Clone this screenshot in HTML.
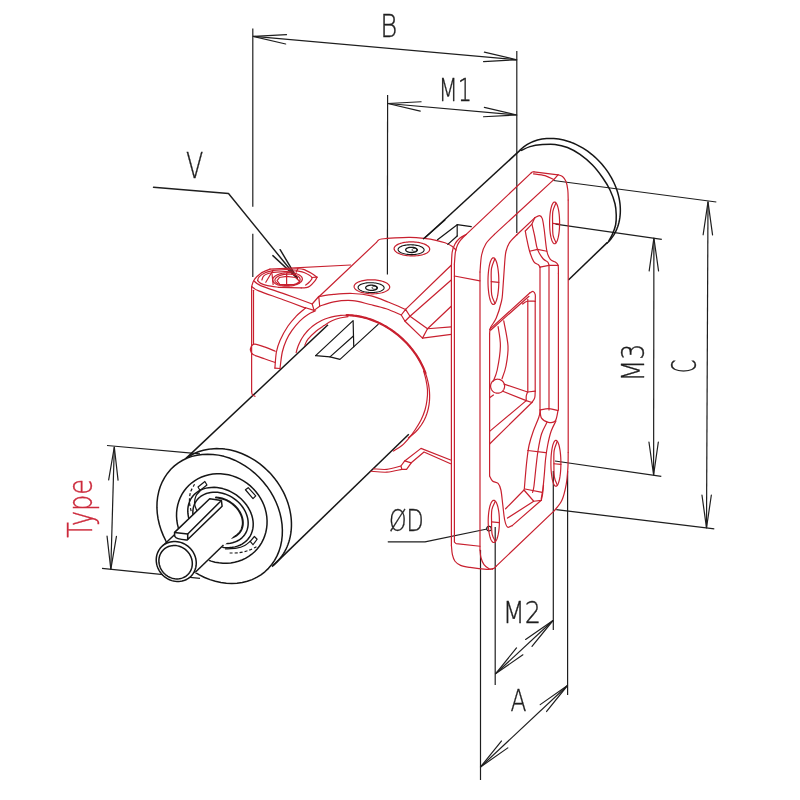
<!DOCTYPE html>
<html lang="en"><head><meta charset="utf-8"><title>Bracket dimension drawing</title>
<style>
html,body{margin:0;padding:0;background:#fff;}
body{width:800px;height:800px;overflow:hidden;}
svg{display:block;}
svg text{font-family:"DejaVu Sans","Liberation Sans",sans-serif;font-weight:200;}
#stage{width:800px;height:800px;will-change:transform;background:#fff;}
</style></head><body>
<div id="stage">
<svg width="800" height="800" viewBox="0 0 800 800">
<rect width="800" height="800" fill="#ffffff"/>
<path d="M252.80 28.50 L252.80 206.75" stroke="#1e1e1e" stroke-width="1.2" fill="none"/>
<path d="M252.80 233.75 L252.80 277.00" stroke="#1e1e1e" stroke-width="1.2" fill="none"/>
<path d="M516.80 51.00 L516.80 233.00" stroke="#1e1e1e" stroke-width="1.2" fill="none"/>
<path d="M253.20 36.40 L516.80 59.80" stroke="#1e1e1e" stroke-width="1.2" fill="none"/>
<path d="M286.49 34.64 L253.20 36.40 L285.66 44.00" stroke="#1e1e1e" stroke-width="1.2" fill="none" stroke-linejoin="round" stroke-linecap="round"/>
<path d="M483.51 61.56 L516.80 59.80 L484.34 52.20" stroke="#1e1e1e" stroke-width="1.2" fill="none" stroke-linejoin="round" stroke-linecap="round"/>
<path d="M387.60 95.00 L387.40 274.40" stroke="#1e1e1e" stroke-width="1.2" fill="none"/>
<path d="M387.80 103.50 L516.80 115.00" stroke="#1e1e1e" stroke-width="1.2" fill="none"/>
<path d="M421.09 101.75 L387.80 103.50 L420.25 111.11" stroke="#1e1e1e" stroke-width="1.2" fill="none" stroke-linejoin="round" stroke-linecap="round"/>
<path d="M483.51 116.75 L516.80 115.00 L484.35 107.39" stroke="#1e1e1e" stroke-width="1.2" fill="none" stroke-linejoin="round" stroke-linecap="round"/>
<path d="M153.50 187.25 L228.50 193.55 L297.30 278.30" stroke="#1e1e1e" stroke-width="1.45" fill="none" stroke-linejoin="round" stroke-linecap="round"/>
<path d="M272.85 255.64 L297.30 278.30 L280.15 249.72" stroke="#1e1e1e" stroke-width="1.45" fill="none" stroke-linejoin="round" stroke-linecap="round"/>
<path d="M553.50 180.50 L716.30 202.00" stroke="#1e1e1e" stroke-width="1.2" fill="none"/>
<path d="M556.25 509.70 L714.30 528.80" stroke="#1e1e1e" stroke-width="1.2" fill="none"/>
<path d="M708.00 201.80 L706.50 528.00" stroke="#1e1e1e" stroke-width="1.2" fill="none"/>
<path d="M712.55 234.82 L708.00 201.80 L703.15 234.78" stroke="#1e1e1e" stroke-width="1.2" fill="none" stroke-linejoin="round" stroke-linecap="round"/>
<path d="M701.95 494.98 L706.50 528.00 L711.35 495.02" stroke="#1e1e1e" stroke-width="1.2" fill="none" stroke-linejoin="round" stroke-linecap="round"/>
<path d="M555.50 224.20 L661.80 239.30" stroke="#1e1e1e" stroke-width="1.2" fill="none"/>
<path d="M555.00 461.00 L661.30 476.30" stroke="#1e1e1e" stroke-width="1.2" fill="none"/>
<path d="M653.90 238.00 L653.60 475.00" stroke="#1e1e1e" stroke-width="1.2" fill="none"/>
<path d="M658.56 271.01 L653.90 238.00 L649.16 270.99" stroke="#1e1e1e" stroke-width="1.2" fill="none" stroke-linejoin="round" stroke-linecap="round"/>
<path d="M648.94 441.99 L653.60 475.00 L658.34 442.01" stroke="#1e1e1e" stroke-width="1.2" fill="none" stroke-linejoin="round" stroke-linecap="round"/>
<path d="M495.20 527.00 L495.20 685.00" stroke="#1e1e1e" stroke-width="1.2" fill="none"/>
<path d="M553.30 471.00 L553.30 630.00" stroke="#1e1e1e" stroke-width="1.2" fill="none"/>
<path d="M495.50 673.80 L553.00 620.50" stroke="#1e1e1e" stroke-width="1.2" fill="none"/>
<path d="M516.51 647.92 L495.50 673.80 L522.90 654.81" stroke="#1e1e1e" stroke-width="1.2" fill="none" stroke-linejoin="round" stroke-linecap="round"/>
<path d="M531.99 646.38 L553.00 620.50 L525.60 639.49" stroke="#1e1e1e" stroke-width="1.2" fill="none" stroke-linejoin="round" stroke-linecap="round"/>
<path d="M480.50 550.00 L480.50 780.00" stroke="#1e1e1e" stroke-width="1.2" fill="none"/>
<path d="M567.60 471.00 L567.60 695.00" stroke="#1e1e1e" stroke-width="1.2" fill="none"/>
<path d="M480.50 767.00 L567.50 685.50" stroke="#1e1e1e" stroke-width="1.2" fill="none"/>
<path d="M501.37 741.01 L480.50 767.00 L507.80 747.87" stroke="#1e1e1e" stroke-width="1.2" fill="none" stroke-linejoin="round" stroke-linecap="round"/>
<path d="M546.63 711.49 L567.50 685.50 L540.20 704.63" stroke="#1e1e1e" stroke-width="1.2" fill="none" stroke-linejoin="round" stroke-linecap="round"/>
<path d="M107.00 445.50 L200.00 453.80" stroke="#1e1e1e" stroke-width="1.2" fill="none"/>
<path d="M102.00 568.40 L200.00 578.40" stroke="#1e1e1e" stroke-width="1.2" fill="none"/>
<path d="M114.30 447.00 L110.80 569.30" stroke="#1e1e1e" stroke-width="1.2" fill="none"/>
<path d="M118.05 480.12 L114.30 447.00 L108.66 479.85" stroke="#1e1e1e" stroke-width="1.2" fill="none" stroke-linejoin="round" stroke-linecap="round"/>
<path d="M107.05 536.18 L110.80 569.30 L116.44 536.45" stroke="#1e1e1e" stroke-width="1.2" fill="none" stroke-linejoin="round" stroke-linecap="round"/>
<path d="M388.20 541.80 L425.00 541.80 L487.00 529.00" stroke="#1e1e1e" stroke-width="1.2" fill="none" stroke-linejoin="round" stroke-linecap="round"/>
<path d="M491.30 528.60 L491.29 528.80 L491.27 529.00 L491.22 529.20 L491.16 529.39 L491.08 529.57 L490.99 529.75 L490.88 529.92 L490.76 530.08 L490.63 530.23 L490.48 530.36 L490.32 530.48 L490.15 530.59 L489.97 530.68 L489.79 530.76 L489.60 530.82 L489.40 530.87 L489.20 530.89 L489.00 530.90 L488.80 530.89 L488.60 530.87 L488.40 530.82 L488.21 530.76 L488.03 530.68 L487.85 530.59 L487.68 530.48 L487.52 530.36 L487.37 530.23 L487.24 530.08 L487.12 529.92 L487.01 529.75 L486.92 529.57 L486.84 529.39 L486.78 529.20 L486.73 529.00 L486.71 528.80 L486.70 528.60 L486.71 528.40 L486.73 528.20 L486.78 528.00 L486.84 527.81 L486.92 527.63 L487.01 527.45 L487.12 527.28 L487.24 527.12 L487.37 526.97 L487.52 526.84 L487.68 526.72 L487.85 526.61 L488.03 526.52 L488.21 526.44 L488.40 526.38 L488.60 526.33 L488.80 526.31 L489.00 526.30 L489.20 526.31 L489.40 526.33 L489.60 526.38 L489.79 526.44 L489.97 526.52 L490.15 526.61 L490.32 526.72 L490.48 526.84 L490.63 526.97 L490.76 527.12 L490.88 527.28 L490.99 527.45 L491.08 527.63 L491.16 527.81 L491.22 528.00 L491.27 528.20 L491.29 528.40 L491.30 528.60 Z" stroke="#1e1e1e" stroke-width="1.2" fill="none" stroke-linejoin="round" stroke-linecap="round"/>
<text transform="translate(380.37 37.25) rotate(0) scale(0.7666 0.9468)" font-size="34" fill="#1e1e1e" stroke="#1e1e1e" stroke-width="0.4">B</text>
<text transform="translate(438.43 101.00) rotate(0) scale(0.6569 0.9166)" font-size="34" fill="#1e1e1e" stroke="#1e1e1e" stroke-width="0.4">M1</text>
<text transform="translate(185.99 178.45) rotate(0) scale(0.7448 1.0254)" font-size="34" fill="#1e1e1e" stroke="#1e1e1e" stroke-width="0.4">V</text>
<text transform="translate(502.76 622.75) rotate(0) scale(0.7519 0.8824)" font-size="34" fill="#1e1e1e" stroke="#1e1e1e" stroke-width="0.4">M2</text>
<text transform="translate(510.55 711.25) rotate(0) scale(0.6879 0.9065)" font-size="34" fill="#1e1e1e" stroke="#1e1e1e" stroke-width="0.4">A</text>
<text transform="translate(388.91 530.63) rotate(0) scale(0.6571 0.9050)" font-size="34" fill="#1e1e1e" stroke="#1e1e1e" stroke-width="0.4">ØD</text>
<text transform="translate(644.43 381.53) rotate(-90) scale(0.7413 0.9385)" font-size="34" fill="#1e1e1e" stroke="#1e1e1e" stroke-width="0.4">M3</text>
<text transform="translate(696.17 373.04) rotate(-90) scale(0.5646 0.9675)" font-size="34" fill="#1e1e1e" stroke="#1e1e1e" stroke-width="0.4">C</text>
<text transform="translate(91.62 537.76) rotate(-90) scale(0.7540 1.0120)" font-size="34" fill="#cc2a3c" stroke="#cc2a3c" stroke-width="0.4">Type</text>
<path d="M186.00 458.40 L328.00 324.80" stroke="#161616" stroke-width="1.5" fill="none"/>
<path d="M425.00 237.80 L521.00 149.40" stroke="#161616" stroke-width="1.5" fill="none"/>
<path d="M272.00 566.60 L408.80 434.30" stroke="#161616" stroke-width="1.5" fill="none"/>
<path d="M568.40 280.00 L607.20 242.60" stroke="#161616" stroke-width="1.5" fill="none"/>
<path d="M520.43 149.75 L522.04 148.28 L523.73 146.91 L525.49 145.63 L527.33 144.45 L529.25 143.37 L531.23 142.39 L533.27 141.52 L535.37 140.75 L537.53 140.08 L539.73 139.53 L541.99 139.08 L544.28 138.74 L546.62 138.52 L548.99 138.40 L551.38 138.40 L553.80 138.51 L556.24 138.72 L558.70 139.05 L561.17 139.49 L563.64 140.04 L566.11 140.70 L568.58 141.46 L571.04 142.33 L573.48 143.30 L575.91 144.38 L578.31 145.55 L580.69 146.82 L583.03 148.19 L585.34 149.65 L587.61 151.20 L589.83 152.83 L592.00 154.55 L594.12 156.35 L596.18 158.22 L598.18 160.17 L600.11 162.19 L601.97 164.27 L603.76 166.42 L605.48 168.62 L607.11 170.88 L608.66 173.18 L610.12 175.53 L611.50 177.92 L612.78 180.34 L613.97 182.79 L615.07 185.27 L616.06 187.77 L616.96 190.29 L617.75 192.82 L618.44 195.35 L619.03 197.89 L619.51 200.42 L619.88 202.95 L620.15 205.46 L620.30 207.95 L620.35 210.42 L620.29 212.87 L620.12 215.28 L619.85 217.66 L619.46 219.99 L618.97 222.28 L618.38 224.52 L617.68 226.70 L616.87 228.83 L615.96 230.89 L614.96 232.88 L613.85 234.81 L612.65 236.66 L611.36 238.43 L609.98 240.12 L608.50 241.73 L606.94 243.25" stroke="#161616" stroke-width="1.5" fill="none" stroke-linejoin="round" stroke-linecap="round"/>
<path d="M521.50 150.40 C522.92 149.77 526.50 147.57 530.00 146.60 C533.50 145.63 538.33 144.97 542.50 144.60 C546.67 144.23 550.83 143.92 555.00 144.40 C559.17 144.88 563.33 145.83 567.50 147.50 C571.67 149.17 575.83 151.48 580.00 154.40 C584.17 157.32 588.75 161.15 592.50 165.00 C596.25 168.85 599.58 173.33 602.50 177.50 C605.42 181.67 607.92 185.62 610.00 190.00 C612.08 194.38 613.96 199.58 615.00 203.75 C616.04 207.92 616.15 211.46 616.25 215.00 C616.35 218.54 616.23 221.83 615.60 225.00 C614.98 228.17 613.60 231.42 612.50 234.00 C611.40 236.58 609.58 239.42 609.00 240.50" stroke="#161616" stroke-width="1.5" fill="none" stroke-linejoin="round" stroke-linecap="round"/>
<path d="M270.00 269.12 C268.44 269.84 263.28 271.62 260.62 273.44 C257.97 275.25 255.56 277.81 254.06 280.00 C252.56 282.19 252.03 285.47 251.62 286.56" stroke="#c8202f" stroke-width="1.2" fill="none" stroke-linejoin="round" stroke-linecap="round"/>
<path d="M251.62 286.56 L251.62 391.56" stroke="#c8202f" stroke-width="1.2" fill="none" stroke-linejoin="round" stroke-linecap="round"/>
<path d="M251.62 391.56 C251.75 392.09 251.81 393.97 252.38 394.75 C252.94 395.53 254.56 396.00 255.00 396.25" stroke="#c8202f" stroke-width="1.2" fill="none" stroke-linejoin="round" stroke-linecap="round"/>
<path d="M253.50 290.31 L253.50 343.75" stroke="#c8202f" stroke-width="1.2" fill="none" stroke-linejoin="round" stroke-linecap="round"/>
<path d="M270.00 269.12 L350.62 265.00" stroke="#c8202f" stroke-width="1.2" fill="none" stroke-linejoin="round" stroke-linecap="round"/>
<path d="M254.06 280.94 C255.16 281.72 255.47 283.44 260.62 285.62 C265.78 287.81 276.41 291.00 285.00 294.06 C293.59 297.12 307.66 302.34 312.19 304.00" stroke="#c8202f" stroke-width="1.2" fill="none" stroke-linejoin="round" stroke-linecap="round"/>
<path d="M251.62 286.56 C252.81 287.28 253.50 288.69 258.75 290.88 C264.00 293.06 275.31 296.81 283.12 299.69 C290.94 302.56 301.88 306.72 305.62 308.12" stroke="#c8202f" stroke-width="1.2" fill="none" stroke-linejoin="round" stroke-linecap="round"/>
<path d="M257.60 280.56 C257.84 279.94 257.79 278.16 259.06 276.85 C260.34 275.54 262.91 273.76 265.25 272.69 C267.59 271.62 271.81 270.81 273.12 270.44" stroke="#c8202f" stroke-width="1.2" fill="none" stroke-linejoin="round" stroke-linecap="round"/>
<path d="M273.12 270.44 L297.88 268.75" stroke="#c8202f" stroke-width="1.2" fill="none" stroke-linejoin="round" stroke-linecap="round"/>
<path d="M297.88 268.75 C298.81 268.84 301.25 268.56 303.50 269.31 C305.75 270.06 309.12 271.94 311.38 273.25 C313.62 274.56 316.06 276.53 317.00 277.19" stroke="#c8202f" stroke-width="1.2" fill="none" stroke-linejoin="round" stroke-linecap="round"/>
<path d="M317.00 277.19 C316.62 277.84 315.97 279.62 314.75 281.12 C313.53 282.62 311.19 285.10 309.69 286.19 C308.19 287.27 307.16 287.37 305.75 287.65 C304.34 287.93 302.00 287.84 301.25 287.88" stroke="#c8202f" stroke-width="1.2" fill="none" stroke-linejoin="round" stroke-linecap="round"/>
<path d="M301.25 287.88 L278.75 287.31" stroke="#c8202f" stroke-width="1.2" fill="none" stroke-linejoin="round" stroke-linecap="round"/>
<path d="M278.75 287.31 C276.88 287.03 270.50 286.28 267.50 285.62 C264.50 284.97 262.40 284.22 260.75 283.38 C259.10 282.53 258.12 281.03 257.60 280.56" stroke="#c8202f" stroke-width="1.2" fill="none" stroke-linejoin="round" stroke-linecap="round"/>
<path d="M261.88 280.00 C262.16 279.34 262.62 277.09 263.56 276.06 C264.50 275.03 265.91 274.41 267.50 273.81 C269.09 273.21 272.19 272.69 273.12 272.46" stroke="#c8202f" stroke-width="1.2" fill="none" stroke-linejoin="round" stroke-linecap="round"/>
<path d="M273.12 272.46 L296.75 270.77" stroke="#c8202f" stroke-width="1.2" fill="none" stroke-linejoin="round" stroke-linecap="round"/>
<path d="M296.75 270.77 C298.06 271.09 302.09 271.56 304.62 272.69 C307.16 273.81 311.19 275.93 311.94 277.52 C312.69 279.12 310.16 280.99 309.12 282.25 C308.09 283.51 306.31 284.59 305.75 285.06" stroke="#c8202f" stroke-width="1.2" fill="none" stroke-linejoin="round" stroke-linecap="round"/>
<path d="M273.12 270.44 L270.88 273.81 L265.81 282.25" stroke="#c8202f" stroke-width="1.2" fill="none" stroke-linejoin="round" stroke-linecap="round"/>
<path d="M297.88 268.75 L296.19 272.12" stroke="#c8202f" stroke-width="1.2" fill="none" stroke-linejoin="round" stroke-linecap="round"/>
<path d="M317.00 277.19 L311.94 277.52" stroke="#c8202f" stroke-width="1.2" fill="none" stroke-linejoin="round" stroke-linecap="round"/>
<path d="M302.37 278.92 L302.33 279.51 L302.18 280.10 L301.92 280.68 L301.55 281.26 L301.08 281.82 L300.50 282.36 L299.82 282.88 L299.05 283.38 L298.19 283.84 L297.25 284.27 L296.23 284.67 L295.15 285.02 L294.01 285.33 L292.82 285.60 L291.59 285.82 L290.33 285.99 L289.05 286.11 L287.76 286.18 L286.47 286.20 L285.18 286.17 L283.91 286.09 L282.67 285.95 L281.47 285.77 L280.31 285.54 L279.21 285.26 L278.17 284.94 L277.20 284.57 L276.31 284.17 L275.50 283.73 L274.79 283.26 L274.17 282.76 L273.66 282.23 L273.25 281.68 L272.95 281.12 L272.76 280.54 L272.68 279.96 L272.72 279.37 L272.87 278.78 L273.13 278.19 L273.50 277.62 L273.97 277.06 L274.55 276.51 L275.23 275.99 L276.00 275.50 L276.86 275.03 L277.80 274.60 L278.82 274.21 L279.90 273.85 L281.04 273.54 L282.23 273.28 L283.46 273.06 L284.72 272.88 L286.00 272.76 L287.29 272.69 L288.58 272.67 L289.87 272.70 L291.14 272.79 L292.38 272.92 L293.58 273.10 L294.74 273.34 L295.84 273.61 L296.88 273.94 L297.85 274.30 L298.74 274.70 L299.55 275.14 L300.26 275.62 L300.88 276.12 L301.39 276.64 L301.80 277.19 L302.10 277.76 L302.29 278.33 L302.37 278.92 Z" stroke="#c8202f" stroke-width="1.2" fill="none" stroke-linejoin="round" stroke-linecap="round"/>
<path d="M300.12 279.34 L300.09 279.83 L299.96 280.32 L299.74 280.81 L299.43 281.28 L299.02 281.75 L298.53 282.20 L297.95 282.64 L297.30 283.05 L296.57 283.44 L295.77 283.80 L294.91 284.13 L293.99 284.42 L293.02 284.68 L292.02 284.91 L290.97 285.09 L289.90 285.23 L288.82 285.34 L287.72 285.40 L286.62 285.41 L285.53 285.39 L284.46 285.32 L283.40 285.21 L282.38 285.06 L281.40 284.86 L280.46 284.63 L279.58 284.36 L278.76 284.06 L278.00 283.73 L277.32 283.36 L276.72 282.97 L276.20 282.55 L275.76 282.11 L275.41 281.65 L275.16 281.18 L275.00 280.70 L274.93 280.21 L274.96 279.72 L275.09 279.23 L275.31 278.74 L275.62 278.27 L276.03 277.80 L276.52 277.35 L277.10 276.91 L277.75 276.50 L278.48 276.11 L279.28 275.75 L280.14 275.42 L281.06 275.13 L282.03 274.87 L283.03 274.64 L284.08 274.46 L285.15 274.32 L286.23 274.21 L287.33 274.15 L288.43 274.14 L289.52 274.16 L290.59 274.23 L291.65 274.34 L292.67 274.49 L293.65 274.69 L294.59 274.92 L295.47 275.19 L296.29 275.49 L297.05 275.82 L297.73 276.19 L298.33 276.58 L298.85 277.00 L299.29 277.44 L299.64 277.90 L299.89 278.37 L300.05 278.85 L300.12 279.34 Z" stroke="#c8202f" stroke-width="1.2" fill="none" stroke-linejoin="round" stroke-linecap="round"/>
<path d="M277.06 280.56 L279.31 277.52 L286.62 276.40 L295.62 277.52 L300.12 281.69 L296.19 284.50 L279.88 284.50 Z" stroke="#c8202f" stroke-width="1.2" fill="none" stroke-linejoin="round" stroke-linecap="round"/>
<path d="M286.62 273.25 L286.62 284.50" stroke="#c8202f" stroke-width="1.2" fill="none" stroke-linejoin="round" stroke-linecap="round"/>
<path d="M272.00 273.81 L273.12 284.50" stroke="#c8202f" stroke-width="1.2" fill="none" stroke-linejoin="round" stroke-linecap="round"/>
<path d="M251.62 345.62 C252.19 345.38 252.88 343.91 255.00 344.12 C257.12 344.34 261.00 345.75 264.38 346.94 C267.75 348.12 273.44 350.53 275.25 351.25" stroke="#c8202f" stroke-width="1.2" fill="none" stroke-linejoin="round" stroke-linecap="round"/>
<path d="M251.62 353.12 C252.03 353.44 251.94 354.06 254.06 355.00 C256.19 355.94 260.84 357.50 264.38 358.75 C267.91 360.00 273.44 361.88 275.25 362.50" stroke="#c8202f" stroke-width="1.2" fill="none" stroke-linejoin="round" stroke-linecap="round"/>
<path d="M251.62 345.62 C251.41 346.25 250.31 348.12 250.31 349.38 C250.31 350.62 251.41 352.50 251.62 353.12" stroke="#c8202f" stroke-width="1.2" fill="none" stroke-linejoin="round" stroke-linecap="round"/>
<path d="M305.60 307.75 C305.20 308.12 304.80 308.56 303.20 310.00 C301.60 311.44 298.53 313.73 296.00 316.40 C293.47 319.07 290.67 322.00 288.00 326.00 C285.33 330.00 281.93 336.07 280.00 340.40 C278.07 344.73 277.25 347.38 276.40 352.00 C275.55 356.62 275.15 365.42 274.90 368.10" stroke="#c8202f" stroke-width="1.2" fill="none" stroke-linejoin="round" stroke-linecap="round"/>
<path d="M315.60 310.80 C314.33 311.40 310.60 312.73 308.00 314.40 C305.40 316.07 302.67 318.13 300.00 320.80 C297.33 323.47 294.27 327.20 292.00 330.40 C289.73 333.60 288.02 336.40 286.40 340.00 C284.78 343.60 283.37 347.25 282.30 352.00 C281.23 356.75 280.38 365.75 280.00 368.50" stroke="#c8202f" stroke-width="1.2" fill="none" stroke-linejoin="round" stroke-linecap="round"/>
<path d="M274.90 368.10 L280.00 368.50" stroke="#c8202f" stroke-width="1.2" fill="none" stroke-linejoin="round" stroke-linecap="round"/>
<path d="M312.19 304.00 L318.75 296.50 L319.69 306.25 L314.06 310.38 L312.19 304.00" stroke="#c8202f" stroke-width="1.2" fill="none" stroke-linejoin="round" stroke-linecap="round"/>
<path d="M305.62 307.75 L314.06 310.38" stroke="#c8202f" stroke-width="1.2" fill="none" stroke-linejoin="round" stroke-linecap="round"/>
<path d="M315.62 355.62 L353.12 320.62 L353.75 346.88" stroke="#161616" stroke-width="1.2" fill="none" stroke-linejoin="round" stroke-linecap="round"/>
<path d="M330.00 356.88 L353.12 336.25" stroke="#161616" stroke-width="1.2" fill="none" stroke-linejoin="round" stroke-linecap="round"/>
<path d="M315.62 355.62 L330.00 356.88 L340.00 359.38 L378.12 324.38" stroke="#161616" stroke-width="1.2" fill="none" stroke-linejoin="round" stroke-linecap="round"/>
<path d="M318.40 297.20 L376.50 242.40" stroke="#c8202f" stroke-width="1.2" fill="none" stroke-linejoin="round" stroke-linecap="round"/>
<path d="M376.50 242.40 C376.80 242.05 377.47 240.87 378.30 240.30 C379.13 239.73 378.72 239.42 381.50 239.00 C384.28 238.58 390.25 238.08 395.00 237.80 C399.75 237.52 405.17 237.20 410.00 237.30 C414.83 237.40 419.67 237.90 424.00 238.40 C428.33 238.90 432.50 239.57 436.00 240.30 C439.50 241.03 442.33 241.82 445.00 242.80 C447.67 243.78 450.17 245.00 452.00 246.20 C453.83 247.40 455.33 249.37 456.00 250.00" stroke="#c8202f" stroke-width="1.2" fill="none" stroke-linejoin="round" stroke-linecap="round"/>
<path d="M318.75 296.50 C321.25 296.15 328.12 294.90 333.75 294.40 C339.38 293.90 346.25 293.25 352.50 293.50 C358.75 293.75 365.21 294.43 371.25 295.90 C377.29 297.37 383.02 300.05 388.75 302.30 C394.48 304.55 402.79 308.22 405.60 309.40" stroke="#c8202f" stroke-width="1.2" fill="none" stroke-linejoin="round" stroke-linecap="round"/>
<path d="M319.70 306.25 C322.04 305.51 328.28 302.74 333.75 301.80 C339.22 300.86 346.46 300.15 352.50 300.60 C358.54 301.05 364.38 303.14 370.00 304.50 C375.62 305.86 381.04 307.00 386.25 308.75 C391.46 310.50 398.75 313.96 401.25 315.00" stroke="#c8202f" stroke-width="1.2" fill="none" stroke-linejoin="round" stroke-linecap="round"/>
<path d="M405.60 309.40 L446.25 270.00 L451.25 265.20" stroke="#c8202f" stroke-width="1.2" fill="none" stroke-linejoin="round" stroke-linecap="round"/>
<path d="M410.00 316.25 L451.25 280.00" stroke="#c8202f" stroke-width="1.2" fill="none" stroke-linejoin="round" stroke-linecap="round"/>
<path d="M427.50 328.75 L451.25 306.25" stroke="#c8202f" stroke-width="1.2" fill="none" stroke-linejoin="round" stroke-linecap="round"/>
<path d="M405.60 309.40 L410.00 316.25 L405.00 321.25 L401.25 315.00 L405.60 309.40" stroke="#c8202f" stroke-width="1.2" fill="none" stroke-linejoin="round" stroke-linecap="round"/>
<path d="M410.00 316.25 L427.50 328.75 L422.50 338.10 L405.00 321.25" stroke="#c8202f" stroke-width="1.2" fill="none" stroke-linejoin="round" stroke-linecap="round"/>
<path d="M427.50 328.75 L451.25 326.90" stroke="#c8202f" stroke-width="1.2" fill="none" stroke-linejoin="round" stroke-linecap="round"/>
<path d="M422.50 338.10 L451.25 334.40" stroke="#c8202f" stroke-width="1.2" fill="none" stroke-linejoin="round" stroke-linecap="round"/>
<path d="M296.17 352.54 L296.97 349.49 L297.95 346.54 L299.11 343.67 L300.44 340.91 L301.93 338.25 L303.59 335.71 L305.41 333.29 L307.38 331.00 L309.50 328.84 L311.77 326.83 L314.17 324.96 L316.70 323.24 L319.35 321.68 L322.12 320.28 L325.00 319.04 L327.99 317.97 L331.06 317.08 L334.22 316.35 L337.45 315.80 L340.76 315.42 L344.12 315.23 L347.53 315.21 L350.97 315.36 L354.45 315.70 L357.96 316.21 L361.47 316.90 L364.98 317.76 L368.49 318.79 L371.98 319.99 L375.44 321.35 L378.87 322.88 L382.25 324.56 L385.58 326.39 L388.84 328.38 L392.03 330.50 L395.14 332.76 L398.16 335.15 L401.09 337.67 L403.91 340.30 L406.61 343.04 L409.19 345.88 L411.65 348.82 L413.97 351.84 L416.15 354.95 L418.19 358.12 L420.07 361.35 L421.80 364.64 L423.36 367.97 L424.76 371.34 L425.99 374.73 L427.04 378.13 L427.92 381.55 L428.62 384.96 L429.14 388.36 L429.48 391.74 L429.63 395.08 L429.61 398.39 L429.39 401.66 L429.00 404.86 L428.43 408.00 L427.67 411.06 L426.74 414.05 L425.63 416.94 L424.35 419.73 L422.90 422.42 L421.29 424.99 L419.52 427.45 L417.59 429.78 L415.51 431.97 L413.28 434.02 L410.92 435.93 L408.42 437.69" stroke="#c8202f" stroke-width="1.2" fill="none" stroke-linejoin="round" stroke-linecap="round"/>
<path d="M346.73 315.19 L348.05 315.22 L349.38 315.27 L350.72 315.35 L352.06 315.45 L353.40 315.58 L354.75 315.73 L356.10 315.92 L357.45 316.13 L358.80 316.36 L360.16 316.62 L361.52 316.91 L362.87 317.22 L364.23 317.56 L365.59 317.92 L366.94 318.31 L368.29 318.73 L369.64 319.17 L370.99 319.63 L372.33 320.12 L373.67 320.63 L375.01 321.17 L376.34 321.73 L377.66 322.32 L378.98 322.93 L380.29 323.56 L381.59 324.22 L382.89 324.90 L384.18 325.60 L385.45 326.32 L386.72 327.07 L387.98 327.84 L389.23 328.63 L390.47 329.44 L391.69 330.27 L392.91 331.12 L394.11 331.99 L395.30 332.88 L396.48 333.79 L397.64 334.72 L398.78 335.67 L399.92 336.63 L401.03 337.62 L402.14 338.62 L403.22 339.64 L404.29 340.67 L405.34 341.72 L406.38 342.79 L407.39 343.87 L408.39 344.97 L409.37 346.08 L410.33 347.21 L411.27 348.35 L412.19 349.50 L413.09 350.67 L413.97 351.84 L414.83 353.03 L415.67 354.23 L416.49 355.44 L417.28 356.67 L418.05 357.90 L418.80 359.14 L419.53 360.39 L420.23 361.64 L420.91 362.91 L421.57 364.18 L422.20 365.46 L422.81 366.74 L423.39 368.03 L423.95 369.33 L424.48 370.63 L424.99 371.93 L425.47 373.24" stroke="#c8202f" stroke-width="2.2" fill="none" stroke-linejoin="round" stroke-linecap="round"/>
<path d="M304.80 345.20 C305.33 344.20 306.13 341.53 308.00 339.20 C309.87 336.87 313.33 333.47 316.00 331.20 C318.67 328.93 321.33 327.33 324.00 325.60 C326.67 323.87 329.33 322.07 332.00 320.80 C334.67 319.53 337.33 318.70 340.00 318.00 C342.67 317.30 346.67 316.83 348.00 316.60" stroke="#c8202f" stroke-width="1.2" fill="none" stroke-linejoin="round" stroke-linecap="round"/>
<path d="M423.60 371.00 C424.00 372.50 425.35 376.83 426.00 380.00 C426.65 383.17 427.33 386.67 427.50 390.00 C427.67 393.33 427.42 396.67 427.00 400.00 C426.58 403.33 426.00 406.67 425.00 410.00 C424.00 413.33 422.67 416.67 421.00 420.00 C419.33 423.33 417.00 427.00 415.00 430.00 C413.00 433.00 411.18 435.42 409.00 438.00 C406.82 440.58 404.50 443.33 401.90 445.50 C399.30 447.67 394.82 450.08 393.40 451.00" stroke="#c8202f" stroke-width="1.2" fill="none" stroke-linejoin="round" stroke-linecap="round"/>
<path d="M389.70 287.11 L389.62 287.72 L389.41 288.32 L389.06 288.91 L388.58 289.49 L387.98 290.04 L387.25 290.57 L386.41 291.07 L385.45 291.54 L384.40 291.97 L383.25 292.36 L382.01 292.71 L380.69 293.02 L379.31 293.27 L377.87 293.48 L376.39 293.64 L374.87 293.75 L373.33 293.80 L371.78 293.80 L370.23 293.75 L368.69 293.64 L367.18 293.48 L365.70 293.27 L364.27 293.01 L362.90 292.71 L361.59 292.36 L360.37 291.96 L359.23 291.53 L358.19 291.06 L357.25 290.56 L356.43 290.03 L355.72 289.48 L355.13 288.90 L354.68 288.31 L354.35 287.71 L354.16 287.10 L354.10 286.49 L354.18 285.88 L354.39 285.28 L354.74 284.69 L355.22 284.11 L355.82 283.56 L356.55 283.03 L357.39 282.53 L358.35 282.06 L359.40 281.63 L360.55 281.24 L361.79 280.89 L363.11 280.58 L364.49 280.33 L365.93 280.12 L367.41 279.96 L368.93 279.85 L370.47 279.80 L372.02 279.80 L373.57 279.85 L375.11 279.96 L376.62 280.12 L378.10 280.33 L379.53 280.59 L380.90 280.89 L382.21 281.24 L383.43 281.64 L384.57 282.07 L385.61 282.54 L386.55 283.04 L387.37 283.57 L388.08 284.12 L388.67 284.70 L389.12 285.29 L389.45 285.89 L389.64 286.50 L389.70 287.11 Z" stroke="#c8202f" stroke-width="1.2" fill="none" stroke-linejoin="round" stroke-linecap="round"/>
<path d="M384.10 287.83 L384.04 288.25 L383.89 288.67 L383.63 289.09 L383.28 289.49 L382.84 289.88 L382.31 290.25 L381.70 290.60 L381.00 290.92 L380.23 291.22 L379.39 291.50 L378.49 291.74 L377.52 291.96 L376.52 292.14 L375.47 292.28 L374.38 292.39 L373.27 292.46 L372.15 292.50 L371.01 292.50 L369.88 292.46 L368.76 292.39 L367.65 292.27 L366.57 292.13 L365.53 291.94 L364.53 291.73 L363.57 291.48 L362.68 291.21 L361.85 290.90 L361.09 290.58 L360.40 290.22 L359.80 289.85 L359.28 289.46 L358.86 289.06 L358.52 288.65 L358.28 288.23 L358.14 287.80 L358.10 287.37 L358.16 286.95 L358.31 286.53 L358.57 286.11 L358.92 285.71 L359.36 285.32 L359.89 284.95 L360.50 284.60 L361.20 284.28 L361.97 283.98 L362.81 283.70 L363.71 283.46 L364.68 283.24 L365.68 283.06 L366.73 282.92 L367.82 282.81 L368.93 282.74 L370.05 282.70 L371.19 282.70 L372.32 282.74 L373.44 282.81 L374.55 282.93 L375.63 283.07 L376.67 283.26 L377.67 283.47 L378.63 283.72 L379.52 283.99 L380.35 284.30 L381.11 284.62 L381.80 284.98 L382.40 285.35 L382.92 285.74 L383.34 286.14 L383.68 286.55 L383.92 286.97 L384.06 287.40 L384.10 287.83 Z" stroke="#161616" stroke-width="1.1" fill="none" stroke-linejoin="round" stroke-linecap="round"/>
<path d="M377.30 287.90 L377.27 288.13 L377.20 288.35 L377.09 288.57 L376.93 288.78 L376.74 288.99 L376.50 289.19 L376.22 289.37 L375.91 289.55 L375.57 289.71 L375.19 289.86 L374.79 289.99 L374.36 290.10 L373.91 290.20 L373.44 290.28 L372.96 290.34 L372.46 290.38 L371.96 290.40 L371.45 290.40 L370.95 290.38 L370.45 290.34 L369.96 290.28 L369.47 290.21 L369.01 290.11 L368.56 290.00 L368.14 289.87 L367.74 289.73 L367.37 289.57 L367.03 289.39 L366.72 289.21 L366.46 289.01 L366.23 288.81 L366.04 288.59 L365.89 288.38 L365.78 288.15 L365.72 287.93 L365.70 287.70 L365.73 287.47 L365.80 287.25 L365.91 287.03 L366.07 286.82 L366.26 286.61 L366.50 286.41 L366.78 286.23 L367.09 286.05 L367.43 285.89 L367.81 285.74 L368.21 285.61 L368.64 285.50 L369.09 285.40 L369.56 285.32 L370.04 285.26 L370.54 285.22 L371.04 285.20 L371.55 285.20 L372.05 285.22 L372.55 285.26 L373.04 285.32 L373.53 285.39 L373.99 285.49 L374.44 285.60 L374.86 285.73 L375.26 285.87 L375.63 286.03 L375.97 286.21 L376.28 286.39 L376.54 286.59 L376.77 286.79 L376.96 287.01 L377.11 287.22 L377.22 287.45 L377.28 287.67 L377.30 287.90 Z" stroke="#161616" stroke-width="1.3" fill="none" stroke-linejoin="round" stroke-linecap="round"/>
<path d="M376.90 287.84 L376.89 287.97 L376.86 288.10 L376.81 288.23 L376.75 288.35 L376.66 288.47 L376.57 288.59 L376.45 288.69 L376.32 288.80 L376.18 288.89 L376.02 288.98 L375.85 289.05 L375.68 289.12 L375.49 289.18 L375.30 289.22 L375.10 289.26 L374.89 289.28 L374.68 289.30 L374.47 289.30 L374.26 289.29 L374.06 289.27 L373.85 289.24 L373.65 289.19 L373.46 289.14 L373.28 289.08 L373.10 289.00 L372.94 288.92 L372.78 288.83 L372.64 288.73 L372.52 288.63 L372.41 288.51 L372.31 288.40 L372.24 288.27 L372.18 288.15 L372.13 288.02 L372.11 287.89 L372.10 287.76 L372.11 287.63 L372.14 287.50 L372.19 287.37 L372.25 287.25 L372.34 287.13 L372.43 287.01 L372.55 286.91 L372.68 286.80 L372.82 286.71 L372.98 286.62 L373.15 286.55 L373.32 286.48 L373.51 286.42 L373.70 286.38 L373.90 286.34 L374.11 286.32 L374.32 286.30 L374.53 286.30 L374.74 286.31 L374.94 286.33 L375.15 286.36 L375.35 286.41 L375.54 286.46 L375.72 286.52 L375.90 286.60 L376.06 286.68 L376.22 286.77 L376.36 286.87 L376.48 286.97 L376.59 287.09 L376.69 287.20 L376.76 287.33 L376.82 287.45 L376.87 287.58 L376.89 287.71 L376.90 287.84 Z" stroke="#161616" stroke-width="0.9" fill="none" stroke-linejoin="round" stroke-linecap="round"/>
<path d="M429.70 249.21 L429.62 249.82 L429.41 250.42 L429.06 251.01 L428.58 251.59 L427.98 252.14 L427.25 252.67 L426.41 253.17 L425.45 253.64 L424.40 254.07 L423.25 254.46 L422.01 254.81 L420.69 255.12 L419.31 255.37 L417.87 255.58 L416.39 255.74 L414.87 255.85 L413.33 255.90 L411.78 255.90 L410.23 255.85 L408.69 255.74 L407.18 255.58 L405.70 255.37 L404.27 255.11 L402.90 254.81 L401.59 254.46 L400.37 254.06 L399.23 253.63 L398.19 253.16 L397.25 252.66 L396.43 252.13 L395.72 251.58 L395.13 251.00 L394.68 250.41 L394.35 249.81 L394.16 249.20 L394.10 248.59 L394.18 247.98 L394.39 247.38 L394.74 246.79 L395.22 246.21 L395.82 245.66 L396.55 245.13 L397.39 244.63 L398.35 244.16 L399.40 243.73 L400.55 243.34 L401.79 242.99 L403.11 242.68 L404.49 242.43 L405.93 242.22 L407.41 242.06 L408.93 241.95 L410.47 241.90 L412.02 241.90 L413.57 241.95 L415.11 242.06 L416.62 242.22 L418.10 242.43 L419.53 242.69 L420.90 242.99 L422.21 243.34 L423.43 243.74 L424.57 244.17 L425.61 244.64 L426.55 245.14 L427.37 245.67 L428.08 246.22 L428.67 246.80 L429.12 247.39 L429.45 247.99 L429.64 248.60 L429.70 249.21 Z" stroke="#c8202f" stroke-width="1.2" fill="none" stroke-linejoin="round" stroke-linecap="round"/>
<path d="M424.10 249.93 L424.04 250.35 L423.89 250.77 L423.63 251.19 L423.28 251.59 L422.84 251.98 L422.31 252.35 L421.70 252.70 L421.00 253.02 L420.23 253.32 L419.39 253.60 L418.49 253.84 L417.52 254.06 L416.52 254.24 L415.47 254.38 L414.38 254.49 L413.27 254.56 L412.15 254.60 L411.01 254.60 L409.88 254.56 L408.76 254.49 L407.65 254.37 L406.57 254.23 L405.53 254.04 L404.53 253.83 L403.57 253.58 L402.68 253.31 L401.85 253.00 L401.09 252.68 L400.40 252.32 L399.80 251.95 L399.28 251.56 L398.86 251.16 L398.52 250.75 L398.28 250.33 L398.14 249.90 L398.10 249.47 L398.16 249.05 L398.31 248.63 L398.57 248.21 L398.92 247.81 L399.36 247.42 L399.89 247.05 L400.50 246.70 L401.20 246.38 L401.97 246.08 L402.81 245.80 L403.71 245.56 L404.68 245.34 L405.68 245.16 L406.73 245.02 L407.82 244.91 L408.93 244.84 L410.05 244.80 L411.19 244.80 L412.32 244.84 L413.44 244.91 L414.55 245.03 L415.63 245.17 L416.67 245.36 L417.67 245.57 L418.63 245.82 L419.52 246.09 L420.35 246.40 L421.11 246.72 L421.80 247.08 L422.40 247.45 L422.92 247.84 L423.34 248.24 L423.68 248.65 L423.92 249.07 L424.06 249.50 L424.10 249.93 Z" stroke="#161616" stroke-width="1.1" fill="none" stroke-linejoin="round" stroke-linecap="round"/>
<path d="M417.30 250.00 L417.27 250.23 L417.20 250.45 L417.09 250.67 L416.93 250.88 L416.74 251.09 L416.50 251.29 L416.22 251.47 L415.91 251.65 L415.57 251.81 L415.19 251.96 L414.79 252.09 L414.36 252.20 L413.91 252.30 L413.44 252.38 L412.96 252.44 L412.46 252.48 L411.96 252.50 L411.45 252.50 L410.95 252.48 L410.45 252.44 L409.96 252.38 L409.47 252.31 L409.01 252.21 L408.56 252.10 L408.14 251.97 L407.74 251.83 L407.37 251.67 L407.03 251.49 L406.72 251.31 L406.46 251.11 L406.23 250.91 L406.04 250.69 L405.89 250.48 L405.78 250.25 L405.72 250.03 L405.70 249.80 L405.73 249.57 L405.80 249.35 L405.91 249.13 L406.07 248.92 L406.26 248.71 L406.50 248.51 L406.78 248.33 L407.09 248.15 L407.43 247.99 L407.81 247.84 L408.21 247.71 L408.64 247.60 L409.09 247.50 L409.56 247.42 L410.04 247.36 L410.54 247.32 L411.04 247.30 L411.55 247.30 L412.05 247.32 L412.55 247.36 L413.04 247.42 L413.53 247.49 L413.99 247.59 L414.44 247.70 L414.86 247.83 L415.26 247.97 L415.63 248.13 L415.97 248.31 L416.28 248.49 L416.54 248.69 L416.77 248.89 L416.96 249.11 L417.11 249.32 L417.22 249.55 L417.28 249.77 L417.30 250.00 Z" stroke="#161616" stroke-width="1.3" fill="none" stroke-linejoin="round" stroke-linecap="round"/>
<path d="M416.90 249.94 L416.89 250.07 L416.86 250.20 L416.81 250.33 L416.75 250.45 L416.66 250.57 L416.57 250.69 L416.45 250.79 L416.32 250.90 L416.18 250.99 L416.02 251.08 L415.85 251.15 L415.68 251.22 L415.49 251.28 L415.30 251.32 L415.10 251.36 L414.89 251.38 L414.68 251.40 L414.47 251.40 L414.26 251.39 L414.06 251.37 L413.85 251.34 L413.65 251.29 L413.46 251.24 L413.28 251.18 L413.10 251.10 L412.94 251.02 L412.78 250.93 L412.64 250.83 L412.52 250.73 L412.41 250.61 L412.31 250.50 L412.24 250.37 L412.18 250.25 L412.13 250.12 L412.11 249.99 L412.10 249.86 L412.11 249.73 L412.14 249.60 L412.19 249.47 L412.25 249.35 L412.34 249.23 L412.43 249.11 L412.55 249.01 L412.68 248.90 L412.82 248.81 L412.98 248.72 L413.15 248.65 L413.32 248.58 L413.51 248.52 L413.70 248.48 L413.90 248.44 L414.11 248.42 L414.32 248.40 L414.53 248.40 L414.74 248.41 L414.94 248.43 L415.15 248.46 L415.35 248.51 L415.54 248.56 L415.72 248.62 L415.90 248.70 L416.06 248.78 L416.22 248.87 L416.36 248.97 L416.48 249.07 L416.59 249.19 L416.69 249.30 L416.76 249.43 L416.82 249.55 L416.87 249.68 L416.89 249.81 L416.90 249.94 Z" stroke="#161616" stroke-width="0.9" fill="none" stroke-linejoin="round" stroke-linecap="round"/>
<path d="M423.44 238.75 L445.00 220.00" stroke="#161616" stroke-width="1.2" fill="none" stroke-linejoin="round" stroke-linecap="round"/>
<path d="M437.50 239.69 L457.19 224.69 L471.25 226.56" stroke="#161616" stroke-width="1.2" fill="none" stroke-linejoin="round" stroke-linecap="round"/>
<path d="M457.19 224.69 L457.19 235.94" stroke="#161616" stroke-width="1.2" fill="none" stroke-linejoin="round" stroke-linecap="round"/>
<path d="M447.81 244.38 L457.19 235.94" stroke="#161616" stroke-width="1.2" fill="none" stroke-linejoin="round" stroke-linecap="round"/>
<path d="M451.40 266.00 C451.53 263.67 451.60 255.67 452.20 252.00 C452.80 248.33 453.75 246.28 455.00 244.00 C456.25 241.72 457.82 239.90 459.70 238.30 C461.57 236.70 465.16 235.05 466.25 234.40" stroke="#c8202f" stroke-width="1.2" fill="none" stroke-linejoin="round" stroke-linecap="round"/>
<path d="M451.40 266.00 L451.40 545.30" stroke="#c8202f" stroke-width="1.2" fill="none" stroke-linejoin="round" stroke-linecap="round"/>
<path d="M451.40 545.30 C451.57 546.87 451.80 552.04 452.40 554.70 C453.00 557.36 453.63 559.47 455.00 561.25 C456.37 563.03 458.10 564.38 460.60 565.40 C463.10 566.42 465.62 566.75 470.00 567.40 C474.38 568.05 483.15 569.05 486.90 569.30 C490.65 569.55 491.57 568.97 492.50 568.90" stroke="#c8202f" stroke-width="1.2" fill="none" stroke-linejoin="round" stroke-linecap="round"/>
<path d="M454.40 264.00 C454.57 262.03 454.87 255.42 455.40 252.20 C455.93 248.98 456.57 246.90 457.60 244.70 C458.63 242.50 460.16 240.72 461.60 239.00 C463.04 237.28 465.48 235.17 466.25 234.40" stroke="#c8202f" stroke-width="1.2" fill="none" stroke-linejoin="round" stroke-linecap="round"/>
<path d="M454.40 264.00 L454.40 542.10 L456.10 543.60 L480.00 546.25" stroke="#c8202f" stroke-width="1.2" fill="none" stroke-linejoin="round" stroke-linecap="round"/>
<path d="M454.40 276.00 L480.00 280.80" stroke="#c8202f" stroke-width="1.2" fill="none" stroke-linejoin="round" stroke-linecap="round"/>
<path d="M466.25 234.40 L531.20 172.90" stroke="#c8202f" stroke-width="1.2" fill="none" stroke-linejoin="round" stroke-linecap="round"/>
<path d="M531.20 172.90 C531.38 172.75 531.83 172.17 532.30 172.00 C532.77 171.83 533.72 171.92 534.00 171.90" stroke="#c8202f" stroke-width="1.2" fill="none" stroke-linejoin="round" stroke-linecap="round"/>
<path d="M534.00 171.90 L558.00 174.80" stroke="#c8202f" stroke-width="1.2" fill="none" stroke-linejoin="round" stroke-linecap="round"/>
<path d="M558.00 174.80 C558.75 175.08 561.17 175.38 562.50 176.50 C563.83 177.62 565.12 179.25 566.00 181.50 C566.88 183.75 567.43 186.92 567.80 190.00 C568.17 193.08 568.13 198.33 568.20 200.00" stroke="#c8202f" stroke-width="1.2" fill="none" stroke-linejoin="round" stroke-linecap="round"/>
<path d="M568.20 200.00 L568.20 452.50" stroke="#c8202f" stroke-width="1.2" fill="none" stroke-linejoin="round" stroke-linecap="round"/>
<path d="M533.50 173.80 C535.42 174.10 541.62 174.63 545.00 175.60 C548.38 176.57 552.33 178.93 553.80 179.60" stroke="#c8202f" stroke-width="1.2" fill="none" stroke-linejoin="round" stroke-linecap="round"/>
<path d="M480.00 272.00 C480.27 269.17 480.62 259.71 481.60 255.00 C482.58 250.29 483.77 247.18 485.90 243.75 C488.03 240.32 492.98 235.96 494.40 234.40" stroke="#c8202f" stroke-width="1.2" fill="none" stroke-linejoin="round" stroke-linecap="round"/>
<path d="M494.40 234.40 L553.80 179.60 L558.00 174.80" stroke="#c8202f" stroke-width="1.2" fill="none" stroke-linejoin="round" stroke-linecap="round"/>
<path d="M480.00 272.00 L480.00 550.00" stroke="#c8202f" stroke-width="1.2" fill="none" stroke-linejoin="round" stroke-linecap="round"/>
<path d="M480.00 550.00 C480.15 551.25 480.23 555.07 480.90 557.50 C481.57 559.93 482.63 562.73 484.00 564.60 C485.37 566.48 487.68 568.03 489.10 568.75 C490.52 569.47 491.93 568.88 492.50 568.90" stroke="#c8202f" stroke-width="1.2" fill="none" stroke-linejoin="round" stroke-linecap="round"/>
<path d="M492.50 568.90 C492.83 568.75 493.88 568.47 494.50 568.00 C495.12 567.53 495.96 566.42 496.25 566.10" stroke="#c8202f" stroke-width="1.2" fill="none" stroke-linejoin="round" stroke-linecap="round"/>
<path d="M496.25 566.10 L554.40 510.60" stroke="#c8202f" stroke-width="1.2" fill="none" stroke-linejoin="round" stroke-linecap="round"/>
<path d="M554.40 510.60 C555.65 508.88 559.93 504.67 561.90 500.30 C563.87 495.93 565.20 489.87 566.20 484.40 C567.20 478.93 567.57 472.82 567.90 467.50 C568.23 462.18 568.15 455.00 568.20 452.50" stroke="#c8202f" stroke-width="1.2" fill="none" stroke-linejoin="round" stroke-linecap="round"/>
<path d="M489.60 334.00 C489.77 332.92 489.49 330.15 490.60 327.50 C491.71 324.85 494.43 322.48 496.25 318.10 C498.07 313.73 500.41 305.93 501.50 301.25 C502.59 296.57 502.27 296.46 502.80 290.00 C503.33 283.54 504.17 268.96 504.70 262.50 C505.23 256.04 505.22 254.53 506.00 251.25 C506.78 247.97 507.58 245.55 509.40 242.80 C511.22 240.05 515.65 236.09 516.90 234.75" stroke="#c8202f" stroke-width="1.2" fill="none" stroke-linejoin="round" stroke-linecap="round"/>
<path d="M516.90 234.75 L534.70 217.90" stroke="#c8202f" stroke-width="1.2" fill="none" stroke-linejoin="round" stroke-linecap="round"/>
<path d="M534.70 217.90 C535.48 217.52 538.15 215.52 539.40 215.60 C540.65 215.68 541.42 216.21 542.20 218.40 C542.98 220.59 543.32 223.28 544.10 228.75 C544.88 234.22 545.82 246.09 546.90 251.25 C547.98 256.41 549.20 257.89 550.60 259.70 C552.00 261.51 554.05 261.17 555.30 262.10 C556.55 263.03 557.58 263.36 558.10 265.30 C558.62 267.24 558.35 272.34 558.40 273.75" stroke="#c8202f" stroke-width="1.2" fill="none" stroke-linejoin="round" stroke-linecap="round"/>
<path d="M558.40 273.75 L558.40 410.00" stroke="#c8202f" stroke-width="1.2" fill="none" stroke-linejoin="round" stroke-linecap="round"/>
<path d="M543.50 485.00 C543.35 486.50 542.98 491.45 542.60 494.00 C542.23 496.55 541.48 499.25 541.25 500.30" stroke="#c8202f" stroke-width="1.2" fill="none" stroke-linejoin="round" stroke-linecap="round"/>
<path d="M541.25 500.30 L512.20 525.60" stroke="#c8202f" stroke-width="1.2" fill="none" stroke-linejoin="round" stroke-linecap="round"/>
<path d="M512.20 525.60 C511.42 525.85 508.75 528.03 507.50 527.10 C506.25 526.17 505.48 523.68 504.70 520.00 C503.92 516.32 503.43 510.00 502.80 505.00 C502.17 500.00 501.68 493.60 500.90 490.00 C500.12 486.40 499.50 484.90 498.10 483.40 C496.70 481.90 493.92 482.23 492.50 481.00 C491.08 479.77 490.08 476.83 489.60 476.00" stroke="#c8202f" stroke-width="1.2" fill="none" stroke-linejoin="round" stroke-linecap="round"/>
<path d="M489.60 476.00 L489.60 334.00" stroke="#c8202f" stroke-width="1.2" fill="none" stroke-linejoin="round" stroke-linecap="round"/>
<path d="M525.30 231.00 C525.52 232.18 525.88 234.72 526.60 238.10 C527.32 241.47 528.41 247.33 529.60 251.25 C530.79 255.17 532.28 259.35 533.75 261.60 C535.22 263.85 537.36 263.82 538.40 264.75 C539.44 265.68 539.73 266.79 540.00 267.20" stroke="#c8202f" stroke-width="1.2" fill="none" stroke-linejoin="round" stroke-linecap="round"/>
<path d="M531.90 224.10 C532.37 226.12 533.77 232.03 534.70 236.25 C535.63 240.47 536.10 245.65 537.50 249.40 C538.90 253.15 541.38 256.63 543.10 258.75 C544.82 260.87 546.82 261.01 547.80 262.10 C548.78 263.19 548.80 264.77 549.00 265.30" stroke="#c8202f" stroke-width="1.2" fill="none" stroke-linejoin="round" stroke-linecap="round"/>
<path d="M540.00 267.20 L540.00 410.00" stroke="#c8202f" stroke-width="1.2" fill="none" stroke-linejoin="round" stroke-linecap="round"/>
<path d="M549.00 265.30 L549.00 410.00" stroke="#c8202f" stroke-width="1.2" fill="none" stroke-linejoin="round" stroke-linecap="round"/>
<path d="M534.70 217.90 L531.90 224.10 L525.30 231.00" stroke="#c8202f" stroke-width="1.2" fill="none" stroke-linejoin="round" stroke-linecap="round"/>
<path d="M529.60 251.25 L537.50 249.40 L546.90 251.25" stroke="#c8202f" stroke-width="1.2" fill="none" stroke-linejoin="round" stroke-linecap="round"/>
<path d="M540.00 267.20 L549.00 265.30 L558.40 265.30" stroke="#c8202f" stroke-width="1.2" fill="none" stroke-linejoin="round" stroke-linecap="round"/>
<path d="M540.12 409.94 C541.61 409.71 546.08 408.45 549.06 408.56 C552.04 408.68 556.51 410.28 558.00 410.62" stroke="#c8202f" stroke-width="1.2" fill="none" stroke-linejoin="round" stroke-linecap="round"/>
<path d="M540.12 409.94 C540.35 411.31 540.12 416.12 541.50 418.19 C542.88 420.25 546.08 421.85 548.38 422.31 C550.67 422.77 553.65 422.89 555.25 420.94 C556.85 418.99 557.54 412.34 558.00 410.62" stroke="#c8202f" stroke-width="1.2" fill="none" stroke-linejoin="round" stroke-linecap="round"/>
<path d="M540.12 410.62 C539.90 411.77 539.90 414.06 538.75 417.50 C537.60 420.94 534.85 426.67 533.25 431.25 C531.65 435.83 530.16 440.42 529.12 445.00 C528.09 449.58 527.64 454.17 527.06 458.75 C526.49 463.33 526.15 467.46 525.69 472.50 C525.23 477.54 524.54 486.25 524.31 489.00" stroke="#c8202f" stroke-width="1.2" fill="none" stroke-linejoin="round" stroke-linecap="round"/>
<path d="M547.00 422.31 C546.08 424.26 542.99 429.30 541.50 434.00 C540.01 438.70 538.98 445.00 538.06 450.50 C537.15 456.00 536.69 461.04 536.00 467.00 C535.31 472.96 534.51 482.01 533.94 486.25 C533.36 490.49 532.79 491.41 532.56 492.44" stroke="#c8202f" stroke-width="1.2" fill="none" stroke-linejoin="round" stroke-linecap="round"/>
<path d="M555.94 420.94 C555.14 422.66 552.50 427.24 551.12 431.25 C549.75 435.26 548.60 440.42 547.69 445.00 C546.77 449.58 546.20 453.71 545.62 458.75 C545.05 463.79 544.71 470.21 544.25 475.25 C543.79 480.29 543.38 485.10 542.88 489.00 C542.37 492.90 541.50 497.02 541.23 498.62" stroke="#c8202f" stroke-width="1.2" fill="none" stroke-linejoin="round" stroke-linecap="round"/>
<path d="M527.75 450.50 L545.62 452.56" stroke="#c8202f" stroke-width="1.2" fill="none" stroke-linejoin="round" stroke-linecap="round"/>
<path d="M525.00 489.00 L542.19 492.44" stroke="#c8202f" stroke-width="1.2" fill="none" stroke-linejoin="round" stroke-linecap="round"/>
<path d="M524.00 490.00 L505.60 508.75" stroke="#c8202f" stroke-width="1.2" fill="none" stroke-linejoin="round" stroke-linecap="round"/>
<path d="M533.75 501.25 L507.50 518.10" stroke="#c8202f" stroke-width="1.2" fill="none" stroke-linejoin="round" stroke-linecap="round"/>
<path d="M524.00 490.00 L533.75 501.25 L541.25 500.30" stroke="#c8202f" stroke-width="1.2" fill="none" stroke-linejoin="round" stroke-linecap="round"/>
<path d="M489.60 329.40 L530.00 292.80" stroke="#c8202f" stroke-width="1.2" fill="none" stroke-linejoin="round" stroke-linecap="round"/>
<path d="M490.60 330.20 L529.00 296.30" stroke="#c8202f" stroke-width="1.2" fill="none" stroke-linejoin="round" stroke-linecap="round"/>
<path d="M530.00 292.80 C530.53 292.58 532.33 291.18 533.20 291.50 C534.08 291.82 534.92 293.07 535.25 294.70 C535.58 296.32 535.21 300.16 535.20 301.25" stroke="#c8202f" stroke-width="1.2" fill="none" stroke-linejoin="round" stroke-linecap="round"/>
<path d="M535.20 301.25 L535.20 391.25" stroke="#c8202f" stroke-width="1.2" fill="none" stroke-linejoin="round" stroke-linecap="round"/>
<path d="M535.20 391.25 C535.12 392.34 535.25 395.93 534.70 397.80 C534.15 399.68 532.37 401.72 531.90 402.50" stroke="#c8202f" stroke-width="1.2" fill="none" stroke-linejoin="round" stroke-linecap="round"/>
<path d="M527.80 299.40 L527.80 392.20" stroke="#c8202f" stroke-width="1.2" fill="none" stroke-linejoin="round" stroke-linecap="round"/>
<path d="M522.50 304.00 C523.28 303.54 525.08 301.71 527.20 301.25 C529.32 300.79 533.87 301.25 535.20 301.25" stroke="#c8202f" stroke-width="1.2" fill="none" stroke-linejoin="round" stroke-linecap="round"/>
<path d="M531.90 402.50 L489.60 444.00" stroke="#c8202f" stroke-width="1.2" fill="none" stroke-linejoin="round" stroke-linecap="round"/>
<path d="M526.25 400.60 L489.60 431.40" stroke="#c8202f" stroke-width="1.2" fill="none" stroke-linejoin="round" stroke-linecap="round"/>
<path d="M489.60 397.80 L493.40 395.00" stroke="#c8202f" stroke-width="1.2" fill="none" stroke-linejoin="round" stroke-linecap="round"/>
<path d="M498.10 326.60 C498.48 329.83 500.55 338.77 500.40 346.00 C500.25 353.23 498.40 364.13 497.20 370.00 C496.00 375.87 493.87 379.33 493.20 381.20" stroke="#c8202f" stroke-width="1.2" fill="none" stroke-linejoin="round" stroke-linecap="round"/>
<path d="M503.75 320.90 C504.46 325.08 507.62 338.48 508.00 346.00 C508.38 353.52 507.00 360.53 506.00 366.00 C505.00 371.47 502.67 376.67 502.00 378.80" stroke="#c8202f" stroke-width="1.2" fill="none" stroke-linejoin="round" stroke-linecap="round"/>
<path d="M504.60 386.20 L504.57 386.81 L504.49 387.42 L504.36 388.01 L504.18 388.59 L503.94 389.16 L503.66 389.70 L503.33 390.22 L502.96 390.70 L502.55 391.15 L502.10 391.56 L501.62 391.93 L501.10 392.26 L500.56 392.54 L499.99 392.78 L499.41 392.96 L498.82 393.09 L498.21 393.17 L497.60 393.20 L496.99 393.17 L496.38 393.09 L495.79 392.96 L495.21 392.78 L494.64 392.54 L494.10 392.26 L493.58 391.93 L493.10 391.56 L492.65 391.15 L492.24 390.70 L491.87 390.22 L491.54 389.70 L491.26 389.16 L491.02 388.59 L490.84 388.01 L490.71 387.42 L490.63 386.81 L490.60 386.20 L490.63 385.59 L490.71 384.98 L490.84 384.39 L491.02 383.81 L491.26 383.24 L491.54 382.70 L491.87 382.18 L492.24 381.70 L492.65 381.25 L493.10 380.84 L493.58 380.47 L494.10 380.14 L494.64 379.86 L495.21 379.62 L495.79 379.44 L496.38 379.31 L496.99 379.23 L497.60 379.20 L498.21 379.23 L498.82 379.31 L499.41 379.44 L499.99 379.62 L500.56 379.86 L501.10 380.14 L501.62 380.47 L502.10 380.84 L502.55 381.25 L502.96 381.70 L503.33 382.18 L503.66 382.70 L503.94 383.24 L504.18 383.81 L504.36 384.39 L504.49 384.98 L504.57 385.59 L504.60 386.20 Z" stroke="#c8202f" stroke-width="1.2" fill="none" stroke-linejoin="round" stroke-linecap="round"/>
<path d="M504.10 384.10 L527.60 392.00 L535.20 391.20" stroke="#c8202f" stroke-width="1.2" fill="none" stroke-linejoin="round" stroke-linecap="round"/>
<path d="M502.80 391.25 L526.25 400.60 L531.90 402.50" stroke="#c8202f" stroke-width="1.2" fill="none" stroke-linejoin="round" stroke-linecap="round"/>
<path d="M527.60 392.00 C527.38 392.67 526.48 394.57 526.25 396.00 C526.02 397.43 526.25 399.83 526.25 400.60" stroke="#c8202f" stroke-width="1.2" fill="none" stroke-linejoin="round" stroke-linecap="round"/>
<path d="M559.60 222.88 L559.58 224.69 L559.52 226.50 L559.43 228.28 L559.30 230.01 L559.13 231.70 L558.93 233.31 L558.70 234.85 L558.43 236.29 L558.14 237.64 L557.81 238.87 L557.47 239.97 L557.10 240.95 L556.71 241.79 L556.31 242.49 L555.89 243.04 L555.47 243.43 L555.04 243.67 L554.60 243.75 L554.16 243.67 L553.73 243.43 L553.31 243.04 L552.89 242.49 L552.49 241.79 L552.10 240.95 L551.73 239.97 L551.39 238.87 L551.06 237.64 L550.77 236.29 L550.50 234.85 L550.27 233.31 L550.07 231.70 L549.90 230.01 L549.77 228.28 L549.68 226.50 L549.62 224.69 L549.60 222.88 L549.62 221.06 L549.68 219.25 L549.77 217.47 L549.90 215.74 L550.07 214.05 L550.27 212.44 L550.50 210.90 L550.77 209.46 L551.06 208.11 L551.39 206.88 L551.73 205.78 L552.10 204.80 L552.49 203.96 L552.89 203.26 L553.31 202.71 L553.73 202.32 L554.16 202.08 L554.60 202.00 L555.04 202.08 L555.47 202.32 L555.89 202.71 L556.31 203.26 L556.71 203.96 L557.10 204.80 L557.47 205.78 L557.81 206.88 L558.14 208.11 L558.43 209.46 L558.70 210.90 L558.93 212.44 L559.13 214.05 L559.30 215.74 L559.43 217.47 L559.52 219.25 L559.58 221.06 L559.60 222.88 Z" stroke="#c8202f" stroke-width="1.2" fill="none" stroke-linejoin="round" stroke-linecap="round"/>
<path d="M555.85 203.20 C555.35 204.57 553.39 208.11 552.85 211.39 C552.31 214.67 552.56 218.87 552.60 222.88 C552.64 226.88 552.52 232.09 553.10 235.40 C553.68 238.71 555.60 241.53 556.10 242.75" stroke="#c8202f" stroke-width="1.2" fill="none" stroke-linejoin="round" stroke-linecap="round"/>
<path d="M552.60 223.38 L559.60 224.07" stroke="#c8202f" stroke-width="1.2" fill="none" stroke-linejoin="round" stroke-linecap="round"/>
<path d="M498.80 281.15 L498.78 283.19 L498.72 285.20 L498.62 287.19 L498.47 289.14 L498.29 291.02 L498.08 292.82 L497.82 294.54 L497.54 296.16 L497.22 297.66 L496.87 299.04 L496.50 300.28 L496.10 301.37 L495.68 302.31 L495.25 303.09 L494.80 303.70 L494.34 304.15 L493.87 304.41 L493.40 304.50 L492.93 304.41 L492.46 304.15 L492.00 303.70 L491.55 303.09 L491.12 302.31 L490.70 301.37 L490.30 300.28 L489.93 299.04 L489.58 297.66 L489.26 296.16 L488.98 294.54 L488.72 292.82 L488.51 291.02 L488.33 289.14 L488.18 287.19 L488.08 285.20 L488.02 283.19 L488.00 281.15 L488.02 279.11 L488.08 277.10 L488.18 275.11 L488.33 273.16 L488.51 271.28 L488.72 269.47 L488.98 267.76 L489.26 266.14 L489.58 264.64 L489.93 263.26 L490.30 262.02 L490.70 260.93 L491.12 259.99 L491.55 259.21 L492.00 258.60 L492.46 258.15 L492.93 257.89 L493.40 257.80 L493.87 257.89 L494.34 258.15 L494.80 258.60 L495.25 259.21 L495.68 259.99 L496.10 260.93 L496.50 262.02 L496.87 263.26 L497.22 264.64 L497.54 266.14 L497.82 267.76 L498.08 269.47 L498.29 271.28 L498.47 273.16 L498.62 275.11 L498.72 277.10 L498.78 279.11 L498.80 281.15 Z" stroke="#c8202f" stroke-width="1.2" fill="none" stroke-linejoin="round" stroke-linecap="round"/>
<path d="M494.75 259.00 C494.21 260.55 492.10 264.62 491.51 268.31 C490.92 272.00 491.19 276.67 491.24 281.15 C491.28 285.63 491.15 291.43 491.78 295.16 C492.41 298.88 494.48 302.11 495.02 303.50" stroke="#c8202f" stroke-width="1.2" fill="none" stroke-linejoin="round" stroke-linecap="round"/>
<path d="M491.24 281.65 L498.80 282.35" stroke="#c8202f" stroke-width="1.2" fill="none" stroke-linejoin="round" stroke-linecap="round"/>
<path d="M560.90 463.27 L560.88 465.28 L560.82 467.26 L560.73 469.22 L560.60 471.13 L560.43 472.98 L560.23 474.76 L560.00 476.45 L559.73 478.04 L559.44 479.52 L559.11 480.87 L558.77 482.10 L558.40 483.17 L558.01 484.10 L557.61 484.86 L557.19 485.47 L556.77 485.90 L556.34 486.16 L555.90 486.25 L555.46 486.16 L555.03 485.90 L554.61 485.47 L554.19 484.86 L553.79 484.10 L553.40 483.17 L553.03 482.10 L552.69 480.87 L552.36 479.52 L552.07 478.04 L551.80 476.45 L551.57 474.76 L551.37 472.98 L551.20 471.13 L551.07 469.22 L550.98 467.26 L550.92 465.28 L550.90 463.27 L550.92 461.27 L550.98 459.29 L551.07 457.33 L551.20 455.42 L551.37 453.57 L551.57 451.79 L551.80 450.10 L552.07 448.51 L552.36 447.03 L552.69 445.68 L553.03 444.45 L553.40 443.38 L553.79 442.45 L554.19 441.69 L554.61 441.08 L555.03 440.65 L555.46 440.39 L555.90 440.30 L556.34 440.39 L556.77 440.65 L557.19 441.08 L557.61 441.69 L558.01 442.45 L558.40 443.38 L558.77 444.45 L559.11 445.68 L559.44 447.03 L559.73 448.51 L560.00 450.10 L560.23 451.79 L560.43 453.57 L560.60 455.42 L560.73 457.33 L560.82 459.29 L560.88 461.27 L560.90 463.27 Z" stroke="#c8202f" stroke-width="1.2" fill="none" stroke-linejoin="round" stroke-linecap="round"/>
<path d="M557.15 441.50 C556.65 443.02 554.69 447.01 554.15 450.64 C553.61 454.27 553.86 458.87 553.90 463.27 C553.94 467.68 553.82 473.40 554.40 477.06 C554.98 480.72 556.90 483.88 557.40 485.25" stroke="#c8202f" stroke-width="1.2" fill="none" stroke-linejoin="round" stroke-linecap="round"/>
<path d="M553.90 463.77 L560.90 464.47" stroke="#c8202f" stroke-width="1.2" fill="none" stroke-linejoin="round" stroke-linecap="round"/>
<path d="M499.40 521.40 L499.38 523.24 L499.31 525.06 L499.21 526.86 L499.06 528.62 L498.88 530.32 L498.65 531.95 L498.39 533.50 L498.09 534.96 L497.76 536.32 L497.40 537.56 L497.01 538.68 L496.60 539.67 L496.17 540.52 L495.72 541.23 L495.25 541.78 L494.77 542.18 L494.29 542.42 L493.80 542.50 L493.31 542.42 L492.83 542.18 L492.35 541.78 L491.88 541.23 L491.43 540.52 L491.00 539.67 L490.59 538.68 L490.20 537.56 L489.84 536.32 L489.51 534.96 L489.21 533.50 L488.95 531.95 L488.72 530.32 L488.54 528.62 L488.39 526.86 L488.29 525.06 L488.22 523.24 L488.20 521.40 L488.22 519.56 L488.29 517.74 L488.39 515.94 L488.54 514.18 L488.72 512.48 L488.95 510.85 L489.21 509.30 L489.51 507.84 L489.84 506.48 L490.20 505.24 L490.59 504.12 L491.00 503.13 L491.43 502.28 L491.88 501.57 L492.35 501.02 L492.83 500.62 L493.31 500.38 L493.80 500.30 L494.29 500.38 L494.77 500.62 L495.25 501.02 L495.72 501.57 L496.17 502.28 L496.60 503.13 L497.01 504.12 L497.40 505.24 L497.76 506.48 L498.09 507.84 L498.39 509.30 L498.65 510.85 L498.88 512.48 L499.06 514.18 L499.21 515.94 L499.31 517.74 L499.38 519.56 L499.40 521.40 Z" stroke="#c8202f" stroke-width="1.2" fill="none" stroke-linejoin="round" stroke-linecap="round"/>
<path d="M495.20 501.50 C494.64 502.88 492.45 506.48 491.84 509.79 C491.23 513.11 491.51 517.36 491.56 521.40 C491.61 525.44 491.47 530.71 492.12 534.06 C492.77 537.41 494.92 540.26 495.48 541.50" stroke="#c8202f" stroke-width="1.2" fill="none" stroke-linejoin="round" stroke-linecap="round"/>
<path d="M491.56 521.90 L499.40 522.60" stroke="#c8202f" stroke-width="1.2" fill="none" stroke-linejoin="round" stroke-linecap="round"/>
<path d="M370.94 471.25 C373.59 471.41 381.72 472.50 386.88 472.19 C392.03 471.88 399.38 469.84 401.88 469.38" stroke="#c8202f" stroke-width="1.2" fill="none" stroke-linejoin="round" stroke-linecap="round"/>
<path d="M373.75 468.81 C375.94 468.91 382.34 469.84 386.88 469.38 C391.41 468.91 398.59 466.56 400.94 466.00" stroke="#c8202f" stroke-width="1.2" fill="none" stroke-linejoin="round" stroke-linecap="round"/>
<path d="M400.94 466.00 L404.69 460.94 L411.25 462.81 L406.56 469.38 L401.88 469.38 L400.94 466.00" stroke="#c8202f" stroke-width="1.2" fill="none" stroke-linejoin="round" stroke-linecap="round"/>
<path d="M404.69 460.94 L421.00 448.38 L450.62 460.00" stroke="#c8202f" stroke-width="1.2" fill="none" stroke-linejoin="round" stroke-linecap="round"/>
<path d="M411.25 462.81 L424.00 451.94 L450.62 463.75" stroke="#c8202f" stroke-width="1.2" fill="none" stroke-linejoin="round" stroke-linecap="round"/>
<path d="M181.18 462.59 L183.04 460.86 L185.00 459.23 L187.04 457.71 L189.16 456.30 L191.37 455.00 L193.64 453.81 L195.99 452.74 L198.40 451.79 L200.88 450.96 L203.41 450.25 L205.98 449.67 L208.61 449.21 L211.27 448.88 L213.97 448.67 L216.70 448.59 L219.46 448.64 L222.23 448.82 L225.01 449.12 L227.81 449.55 L230.60 450.10 L233.39 450.78 L236.17 451.58 L238.94 452.50 L241.69 453.54 L244.41 454.70 L247.10 455.97 L249.75 457.36 L252.36 458.85 L254.93 460.45 L257.44 462.16 L259.90 463.96 L262.29 465.87 L264.62 467.86 L266.88 469.94 L269.06 472.11 L271.16 474.36 L273.18 476.68 L275.10 479.08 L276.94 481.54 L278.68 484.06 L280.32 486.65 L281.86 489.28 L283.29 491.95 L284.62 494.67 L285.83 497.43 L286.93 500.21 L287.92 503.02 L288.78 505.85 L289.53 508.69 L290.16 511.54 L290.66 514.39 L291.05 517.23 L291.30 520.07 L291.44 522.89 L291.45 525.69 L291.33 528.47 L291.09 531.21 L290.73 533.92 L290.24 536.58 L289.63 539.20 L288.90 541.76 L288.05 544.26 L287.08 546.70 L286.00 549.08 L284.80 551.38 L283.49 553.60 L282.08 555.74 L280.55 557.80 L278.93 559.76 L277.20 561.63 L275.38 563.40 L273.46 565.08" stroke="#161616" stroke-width="1.5" fill="none" stroke-linejoin="round" stroke-linecap="round"/>
<path d="M264.87 571.79 L260.91 574.82 L256.63 577.43 L252.07 579.60 L247.27 581.30 L242.25 582.53 L237.06 583.27 L231.75 583.52 L226.33 583.28 L220.87 582.55 L215.40 581.33 L209.96 579.64 L204.59 577.49 L199.34 574.88 L194.24 571.86 L189.34 568.43 L184.67 564.62 L180.26 560.46 L176.15 555.99 L172.38 551.23 L168.96 546.23 L165.93 541.02 L163.31 535.64 L161.12 530.13 L159.37 524.54 L158.08 518.90 L157.26 513.26 L156.92 507.67 L157.05 502.16 L157.66 496.78 L158.74 491.56 L160.28 486.55 L162.28 481.79 L164.71 477.31 L167.56 473.15 L170.81 469.33 L174.43 465.89 L178.39 462.86 L182.67 460.25 L187.23 458.08 L192.03 456.38 L197.05 455.15 L202.24 454.41 L207.55 454.16 L212.97 454.40 L218.43 455.13 L223.90 456.35 L229.34 458.04 L234.71 460.19 L239.96 462.80 L245.06 465.82 L249.96 469.25 L254.63 473.06 L259.04 477.22 L263.15 481.69 L266.92 486.45 L270.34 491.45 L273.37 496.66 L275.99 502.04 L278.18 507.55 L279.93 513.14 L281.22 518.78 L282.04 524.42 L282.38 530.01 L282.25 535.52 L281.64 540.90 L280.56 546.12 L279.02 551.13 L277.02 555.89 L274.59 560.37 L271.74 564.53 L268.49 568.35 L264.87 571.79 Z" stroke="#161616" stroke-width="1.5" fill="#fff" stroke-linejoin="round" stroke-linecap="round"/>
<path d="M257.20 548.95 L254.61 551.70 L251.76 554.19 L248.69 556.41 L245.41 558.34 L241.95 559.97 L238.34 561.29 L234.61 562.27 L230.77 562.93 L226.87 563.25 L222.93 563.22 L218.98 562.86 L215.05 562.16 L211.17 561.12 L207.38 559.76 L203.69 558.09 L200.14 556.12 L196.76 553.86 L193.56 551.33 L190.59 548.55 L187.85 545.54 L185.36 542.33 L183.16 538.93 L181.25 535.38 L179.64 531.70 L178.36 527.92 L177.41 524.07 L176.80 520.18 L176.53 516.27 L176.60 512.38 L177.02 508.54 L177.78 504.77 L178.87 501.11 L180.29 497.58 L182.03 494.21 L184.07 491.02 L186.40 488.05 L188.99 485.30 L191.84 482.81 L194.91 480.59 L198.19 478.66 L201.65 477.03 L205.26 475.71 L208.99 474.73 L212.83 474.07 L216.73 473.75 L220.67 473.78 L224.62 474.14 L228.55 474.84 L232.43 475.88 L236.22 477.24 L239.91 478.91 L243.46 480.88 L246.84 483.14 L250.04 485.67 L253.01 488.45 L255.75 491.46 L258.24 494.67 L260.44 498.07 L262.35 501.62 L263.96 505.30 L265.24 509.08 L266.19 512.93 L266.80 516.82 L267.07 520.73 L267.00 524.62 L266.58 528.46 L265.82 532.23 L264.73 535.89 L263.31 539.42 L261.57 542.79 L259.53 545.98 L257.20 548.95 Z" stroke="#161616" stroke-width="1.5" fill="none" stroke-linejoin="round" stroke-linecap="round"/>
<path d="M249.17 537.58 L247.69 539.46 L246.00 541.18 L244.11 542.72 L242.05 544.07 L239.82 545.21 L237.44 546.15 L234.94 546.87 L232.32 547.36 L229.62 547.62 L226.85 547.66 L224.02 547.47 L221.18 547.05 L218.32 546.40 L215.48 545.53 L212.68 544.45 L209.94 543.17 L207.29 541.69 L204.73 540.03 L202.29 538.19 L199.99 536.20 L197.84 534.06 L195.87 531.80 L194.09 529.43 L192.50 526.97 L191.13 524.44 L189.99 521.85 L189.07 519.23 L188.40 516.60 L187.97 513.98 L187.78 511.38 L187.85 508.83 L188.16 506.34 L188.72 503.94 L189.53 501.64 L190.56 499.46 L191.83 497.42 L193.31 495.54 L195.00 493.82 L196.89 492.28 L198.95 490.93 L201.18 489.79 L203.56 488.85 L206.06 488.13 L208.68 487.64 L211.38 487.38 L214.15 487.34 L216.98 487.53 L219.82 487.95 L222.68 488.60 L225.52 489.47 L228.32 490.55 L231.06 491.83 L233.71 493.31 L236.27 494.97 L238.71 496.81 L241.01 498.80 L243.16 500.94 L245.13 503.20 L246.91 505.57 L248.50 508.03 L249.87 510.56 L251.01 513.15 L251.93 515.77 L252.60 518.40 L253.03 521.02 L253.22 523.62 L253.15 526.17 L252.84 528.66 L252.28 531.06 L251.47 533.36 L250.44 535.54 L249.17 537.58 Z" stroke="#161616" stroke-width="1.5" fill="none" stroke-linejoin="round" stroke-linecap="round"/>
<path d="M244.66 534.72 L243.40 536.33 L241.96 537.81 L240.35 539.13 L238.60 540.28 L236.70 541.27 L234.69 542.08 L232.56 542.70 L230.35 543.14 L228.06 543.38 L225.71 543.42 L223.32 543.27 L220.91 542.93 L218.50 542.40 L216.10 541.68 L213.73 540.77 L211.42 539.70 L209.18 538.45 L207.02 537.05 L204.97 535.50 L203.03 533.82 L201.23 532.01 L199.57 530.10 L198.07 528.10 L196.74 526.01 L195.60 523.86 L194.64 521.67 L193.88 519.45 L193.32 517.21 L192.97 514.98 L192.83 512.77 L192.90 510.60 L193.18 508.48 L193.67 506.44 L194.36 504.48 L195.25 502.62 L196.34 500.88 L197.60 499.27 L199.04 497.79 L200.65 496.47 L202.40 495.32 L204.30 494.33 L206.31 493.52 L208.44 492.90 L210.65 492.46 L212.94 492.22 L215.29 492.18 L217.68 492.33 L220.09 492.67 L222.50 493.20 L224.90 493.92 L227.27 494.83 L229.58 495.90 L231.82 497.15 L233.98 498.55 L236.03 500.10 L237.97 501.78 L239.77 503.59 L241.43 505.50 L242.93 507.50 L244.26 509.59 L245.40 511.74 L246.36 513.93 L247.12 516.15 L247.68 518.39 L248.03 520.62 L248.17 522.83 L248.10 525.00 L247.82 527.12 L247.33 529.16 L246.64 531.12 L245.75 532.98 L244.66 534.72 Z" stroke="#161616" stroke-width="1.5" fill="none" stroke-linejoin="round" stroke-linecap="round"/>
<path d="M215.99 497.54 L217.22 497.62 L218.45 497.76 L219.70 497.96 L220.94 498.23 L222.19 498.55 L223.43 498.94 L224.66 499.39 L225.87 499.89 L227.07 500.45 L228.25 501.07 L229.41 501.73 L230.53 502.45 L231.63 503.22 L232.69 504.03 L233.72 504.89 L234.70 505.78 L235.64 506.72 L236.53 507.69 L237.37 508.69 L238.16 509.72 L238.90 510.77 L239.58 511.85 L240.19 512.95 L240.75 514.06 L241.25 515.19 L241.68 516.32 L242.04 517.46 L242.34 518.61 L242.57 519.75 L242.73 520.88 L242.82 522.00 L242.84 523.12 L242.79 524.21 L242.68 525.29 L242.49 526.35 L242.24 527.37 L241.91 528.37 L241.53 529.34 L241.07 530.27 L240.56 531.17 L239.98 532.02 L239.34 532.83 L238.64 533.59 L237.88 534.31 L237.07 534.97 L236.21 535.58 L235.30 536.14 L234.35 536.64 L233.35 537.08 L232.31 537.47 L231.24 537.79 L230.13 538.05 L228.99 538.25 L227.83 538.39 L226.64 538.46 L225.43 538.47 L224.21 538.41 L222.98 538.30 L221.74 538.12 L220.49 537.87 L219.25 537.57 L218.00 537.20 L216.77 536.77 L215.55 536.29 L214.34 535.75 L213.16 535.15 L211.99 534.50 L210.85 533.80 L209.75 533.05 L208.67 532.26 L207.63 531.42 L206.64 530.53" stroke="#161616" stroke-width="2.0" fill="none" stroke-linejoin="round" stroke-linecap="round"/>
<path d="M245.44 489.75 L248.19 487.69 L255.75 495.94 L253.00 498.69 Z" stroke="#161616" stroke-width="1.2" fill="none" stroke-linejoin="round" stroke-linecap="round"/>
<path d="M198.00 487.00 L204.88 481.50 L206.94 484.94 L200.06 490.44 Z" stroke="#161616" stroke-width="1.2" fill="none" stroke-linejoin="round" stroke-linecap="round"/>
<path d="M250.25 541.31 L254.38 536.50 L257.12 539.25 L253.00 544.75 Z" stroke="#161616" stroke-width="1.2" fill="none" stroke-linejoin="round" stroke-linecap="round"/>
<path d="M194.56 484.25 C193.88 485.62 191.29 489.52 190.44 492.50 C189.59 495.48 189.36 499.03 189.47 502.12 C189.59 505.22 190.85 509.57 191.12 511.06" stroke="#161616" stroke-width="1.2" fill="none" stroke-dasharray="3 2"/>
<path d="M229.62 553.00 C231.23 552.95 236.04 553.18 239.25 552.73 C242.46 552.27 246.01 551.24 248.88 550.25 C251.74 549.26 255.18 547.39 256.44 546.81" stroke="#161616" stroke-width="1.2" fill="none" stroke-dasharray="3 2"/>
<path d="M196.62 510.38 C196.28 509.23 194.68 505.91 194.56 503.50 C194.45 501.09 195.02 498.00 195.94 495.94 C196.85 493.88 199.38 491.93 200.06 491.12" stroke="#161616" stroke-width="1.2" fill="none" stroke-linejoin="round" stroke-linecap="round"/>
<path d="M225.50 548.88 C227.33 548.76 233.29 548.76 236.50 548.19 C239.71 547.61 242.46 546.58 244.75 545.44 C247.04 544.29 249.33 542.00 250.25 541.31" stroke="#161616" stroke-width="1.2" fill="none" stroke-linejoin="round" stroke-linecap="round"/>
<path d="M161.50 547.00 L175.00 535.00 L209.70 498.70 L235.00 520.00 L237.00 533.00 L196.00 573.00 Z" stroke="none" stroke-width="0" fill="#fff" stroke-linejoin="round" stroke-linecap="round"/>
<path d="M162.30 546.30 L175.00 534.30" stroke="#161616" stroke-width="1.5" fill="none"/>
<path d="M195.30 572.30 L223.50 545.00" stroke="#161616" stroke-width="1.5" fill="none"/>
<path d="M190.96 576.21 L189.72 577.34 L188.38 578.34 L186.94 579.22 L185.43 579.96 L183.84 580.57 L182.20 581.03 L180.51 581.34 L178.79 581.49 L177.05 581.50 L175.30 581.35 L173.56 581.06 L171.85 580.61 L170.16 580.02 L168.52 579.29 L166.94 578.42 L165.43 577.42 L164.01 576.31 L162.67 575.08 L161.44 573.74 L160.33 572.32 L159.33 570.81 L158.46 569.23 L157.73 567.59 L157.14 565.90 L156.69 564.19 L156.40 562.45 L156.25 560.70 L156.26 558.96 L156.41 557.24 L156.72 555.55 L157.18 553.91 L157.79 552.32 L158.53 550.81 L159.41 549.37 L160.41 548.03 L161.54 546.79 L162.78 545.66 L164.12 544.66 L165.56 543.78 L167.07 543.04 L168.66 542.43 L170.30 541.97 L171.99 541.66 L173.71 541.51 L175.45 541.50 L177.20 541.65 L178.94 541.94 L180.65 542.39 L182.34 542.98 L183.98 543.71 L185.56 544.58 L187.07 545.58 L188.49 546.69 L189.83 547.92 L191.06 549.26 L192.17 550.68 L193.17 552.19 L194.04 553.77 L194.77 555.41 L195.36 557.10 L195.81 558.81 L196.10 560.55 L196.25 562.30 L196.24 564.04 L196.09 565.76 L195.78 567.45 L195.32 569.09 L194.71 570.68 L193.97 572.19 L193.09 573.63 L192.09 574.97 L190.96 576.21 Z" stroke="#161616" stroke-width="1.5" fill="#fff" stroke-linejoin="round" stroke-linecap="round"/>
<path d="M187.90 574.50 L186.87 575.44 L185.75 576.28 L184.56 577.01 L183.29 577.63 L181.97 578.13 L180.60 578.51 L179.19 578.77 L177.75 578.90 L176.30 578.90 L174.84 578.78 L173.39 578.52 L171.95 578.15 L170.55 577.65 L169.18 577.04 L167.86 576.31 L166.59 575.48 L165.40 574.54 L164.29 573.51 L163.26 572.40 L162.32 571.21 L161.49 569.94 L160.76 568.62 L160.15 567.25 L159.65 565.85 L159.28 564.41 L159.02 562.96 L158.90 561.50 L158.90 560.05 L159.03 558.61 L159.29 557.20 L159.67 555.83 L160.17 554.51 L160.79 553.24 L161.52 552.05 L162.36 550.93 L163.30 549.90 L164.33 548.96 L165.45 548.12 L166.64 547.39 L167.91 546.77 L169.23 546.27 L170.60 545.89 L172.01 545.63 L173.45 545.50 L174.90 545.50 L176.36 545.62 L177.81 545.88 L179.25 546.25 L180.65 546.75 L182.02 547.36 L183.34 548.09 L184.61 548.92 L185.80 549.86 L186.91 550.89 L187.94 552.00 L188.88 553.19 L189.71 554.46 L190.44 555.78 L191.05 557.15 L191.55 558.55 L191.92 559.99 L192.18 561.44 L192.30 562.90 L192.30 564.35 L192.17 565.79 L191.91 567.20 L191.53 568.57 L191.03 569.89 L190.41 571.16 L189.68 572.35 L188.84 573.47 L187.90 574.50 Z" stroke="#161616" stroke-width="1.5" fill="none" stroke-linejoin="round" stroke-linecap="round"/>
<path d="M174.60 532.40 L209.70 498.70 L221.40 500.50 L187.70 534.00 L222.10 506.25 L187.70 539.50 L186.30 540.00 L178.00 538.60 L174.90 536.50 Z" stroke="none" stroke-width="0" fill="#fff" stroke-linejoin="round" stroke-linecap="round"/>
<path d="M174.60 532.40 L209.70 498.70 L221.40 500.50 L187.70 534.00 Z" stroke="#161616" stroke-width="1.5" fill="none" stroke-linejoin="round" stroke-linecap="round"/>
<path d="M221.40 500.50 L222.10 506.25 L187.70 539.50 L187.70 534.00" stroke="#161616" stroke-width="1.5" fill="none" stroke-linejoin="round" stroke-linecap="round"/>
<path d="M174.60 532.40 C174.65 533.08 174.33 535.47 174.90 536.50 C175.47 537.53 176.10 538.02 178.00 538.60 C179.90 539.18 184.68 539.85 186.30 540.00 C187.92 540.15 187.47 539.58 187.70 539.50" stroke="#161616" stroke-width="1.5" fill="none" stroke-linejoin="round" stroke-linecap="round"/>
</svg>
</div>
</body></html>
